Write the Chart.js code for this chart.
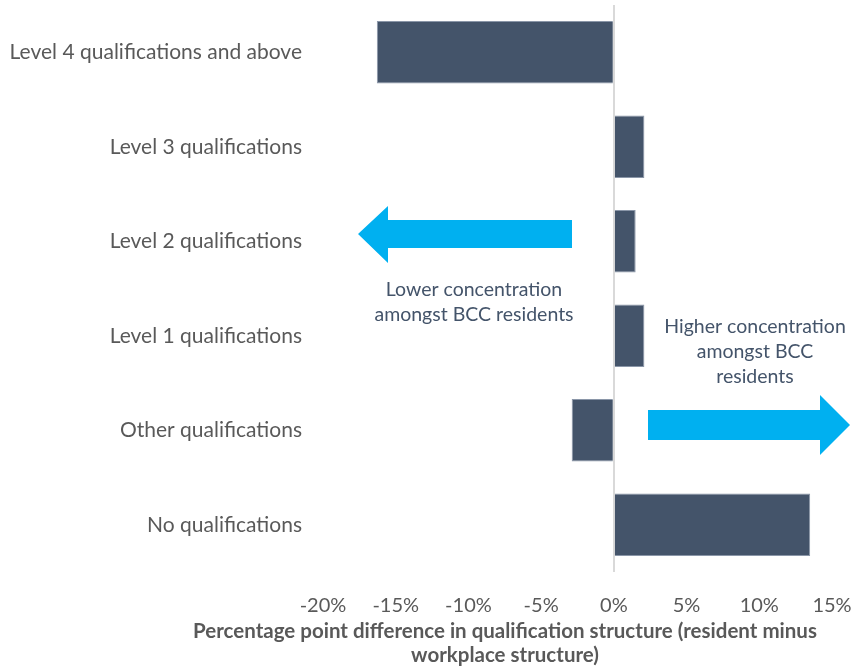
<!DOCTYPE html>
<html>
<head>
<meta charset="utf-8">
<script src="https://cdn.jsdelivr.net/npm/chart.js@4"></script>
<style>
  html, body { margin: 0; padding: 0; background: #fff; }
  #wrap { width: 854px; height: 666px; }
</style>
</head>
<body>
<div id="wrap"><canvas id="chart" width="854" height="666"></canvas></div>
<script>
// categories, top to bottom
const categories = [
    'Level 4 qualifications and above',
    'Level 3 qualifications',
    'Level 2 qualifications',
    'Level 1 qualifications',
    'Other qualifications',
    'No qualifications'
];
// percentage point difference (resident minus workplace)
const differences = [-16.3, 2.1, 1.5, 2.1, -2.9, 13.5];

const xMin = -20;
const xMax = 15;
const xStep = 5;

const axisTitle = [
    'Percentage point difference in qualification structure (resident minus',
    'workplace structure)'
];
const lowerNote = ['Lower concentration', 'amongst BCC residents'];
const higherNote = ['Higher concentration', 'amongst BCC', 'residents'];

const FONT = 'Lato, "Open Sans", sans-serif';
const GREY = '#595959';
const SLATE = '#44546A';
const CYAN = '#00B0F0';

// arrows, notes and axis title drawn on top of the chart
const annotations = {
    id: 'annotations',
    afterDraw(chart) {
        const ctx = chart.ctx;
        ctx.save();

        // left arrow
        ctx.fillStyle = CYAN;
        ctx.beginPath();
        ctx.moveTo(358, 234);
        ctx.lineTo(388, 206);
        ctx.lineTo(388, 220);
        ctx.lineTo(572, 220);
        ctx.lineTo(572, 248);
        ctx.lineTo(388, 248);
        ctx.lineTo(388, 263);
        ctx.closePath();
        ctx.fill();

        // right arrow
        ctx.beginPath();
        ctx.moveTo(648, 410);
        ctx.lineTo(820, 410);
        ctx.lineTo(820, 395);
        ctx.lineTo(850, 425);
        ctx.lineTo(820, 455);
        ctx.lineTo(820, 440);
        ctx.lineTo(648, 440);
        ctx.closePath();
        ctx.fill();

        ctx.fillStyle = SLATE;
        ctx.font = '19.5px ' + FONT;
        ctx.textAlign = 'center';
        ctx.textBaseline = 'middle';
        lowerNote.forEach((t, i) => ctx.fillText(t, 474, 290 + i * 25));
        higherNote.forEach((t, i) => ctx.fillText(t, 755, 327 + i * 25));

        ctx.fillStyle = GREY;
        ctx.font = 'bold 20.5px ' + FONT;
        axisTitle.forEach((t, i) => ctx.fillText(t, 505, 631 + i * 24));

        ctx.restore();
    }
};

const ctx = document.getElementById('chart').getContext('2d');
new Chart(ctx, {
    type: 'bar',
    data: {
        labels: categories,
        datasets: [{
            data: differences,
            backgroundColor: SLATE,
            borderColor: '#8a96a8',
            borderWidth: 1,
            categoryPercentage: 1,
            barPercentage: 0.66
        }]
    },
    options: {
        indexAxis: 'y',
        responsive: false,
        animation: false,
        layout: { padding: { top: 5, right: 22, left: 0, bottom: 0 } },
        plugins: {
            legend: { display: false },
            tooltip: { enabled: false }
        },
        scales: {
            x: {
                min: xMin,
                max: xMax,
                ticks: {
                    stepSize: xStep,
                    color: GREY,
                    font: { family: FONT, size: 20 },
                    padding: 22,
                    callback: v => v + '%'
                },
                grid: {
                    drawTicks: false,
                    color: c => c.tick && c.tick.value === 0 ? '#D9D9D9' : 'rgba(0,0,0,0)',
                    lineWidth: 2
                },
                border: { display: false },
                afterFit: s => {
                    s.height = 94;
                    s.paddingLeft = 0;
                    s.paddingRight = 0;
                }
            },
            y: {
                ticks: {
                    color: GREY,
                    font: { family: FONT, size: 21 },
                    padding: 21
                },
                grid: { display: false, drawTicks: false },
                border: { display: false },
                afterFit: s => {
                    s.width = 323;
                    s.paddingTop = 0;
                    s.paddingBottom = 0;
                }
            }
        }
    },
    plugins: [annotations]
});
</script>
</body>
</html>
